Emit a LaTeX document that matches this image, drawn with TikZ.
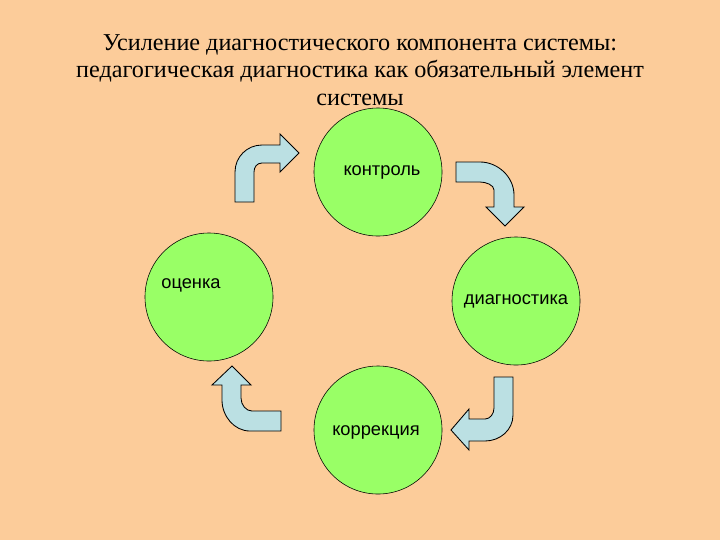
\documentclass[tikz,border=0pt]{standalone}
\usepackage{fontspec}
\setmainfont{Liberation Serif}
\newfontfamily\labelfont{Liberation Sans}
\usetikzlibrary{positioning,calc}

\definecolor{peach}{RGB}{252,204,154}
\definecolor{ringgreen}{RGB}{153,255,102}
\definecolor{arrowblue}{RGB}{187,224,227}

\begin{document}
\begin{tikzpicture}[x=0.025cm,y=-0.025cm,
  stage/.style={circle,draw=black,fill=ringgreen,minimum size=3.2cm,inner sep=0pt},
  lbl/.style={font=\labelfont\fontsize{13}{15}\selectfont,inner sep=0pt},
  bent/.style={draw=black,fill=arrowblue,line width=0.6pt,line join=miter}]
\fill[peach] (0,0) rectangle (720,540);
% title
\node[align=center,font=\fontsize{17.2}{19.6}\selectfont] (title) at (360,70)
  {Усиление диагностического компонента системы:\\
   педагогическая диагностика как обязательный элемент\\
   системы};
% the four stages
\node[stage] (kontrol) at (378,172) {};
\node[stage] (ocenka) at (209,297) {};
\node[stage] (diagn) at (516,301) {};
\node[stage] (korr) at (378,430) {};
\node[lbl] (kontrolText) at ($(kontrol)+(4,0)$) {контроль};
\node[lbl] (ocenkaText) at ($(ocenka)+(-18,-12)$) {оценка};
\node[lbl] (diagnText) at (diagn) {диагностика};
\node[lbl] (korrText) at ($(korr)+(-2,2)$) {коррекция};
% bent arrows
\draw[bent] (235,202) -- (235,172) .. controls (235,157) and (247,145) .. (262,145) -- (280,145)
  -- (280,134) -- (299,153) -- (280,172) -- (280,163) -- (262,163)
  .. controls (257,163) and (254,167) .. (254,172) -- (254,202) -- cycle;
\draw[bent] (456,162) -- (480,162) .. controls (498,162) and (514,177) .. (514,195) -- (514,207)
  -- (524,207) -- (505,226) -- (486,207) -- (494,207) -- (494,190)
  .. controls (494,185) and (486,182) .. (480,182) -- (456,182) -- cycle;
\draw[bent] (494,377) -- (513,377) -- (513,415) .. controls (513,430) and (500,441) .. (485,441)
  -- (469,441) -- (469,450) -- (451,430) -- (469,409) -- (469,419) -- (485,419)
  .. controls (490,419) and (494,414) .. (494,408) -- cycle;
\draw[bent] (281,411) -- (281,431) -- (250,431) .. controls (234,431) and (222,416) .. (222,400)
  -- (222,385) -- (212,385) -- (232,366) -- (251,385) -- (241,385) -- (241,398)
  .. controls (241,405) and (246,411) .. (252,411) -- cycle;
\end{tikzpicture}
\end{document}
